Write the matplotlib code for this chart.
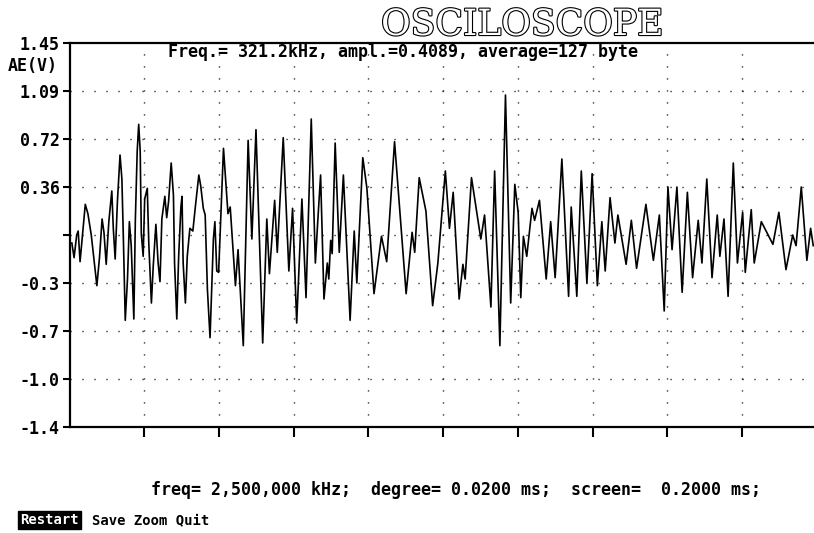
"""Recreate the OSCILOSCOPE acoustic-emission screen capture."""
import matplotlib

matplotlib.use("Agg")
import matplotlib.pyplot as plt
from matplotlib import patheffects


# trace turning points: time [us] and amplitude AE [V]
TIME_US = [
    0.6, 1.2, 1.9, 2.3, 2.8, 4.2, 4.9, 5.8, 7.3, 8.0,
    8.7, 9.2, 9.8, 10.5, 11.3, 11.7, 12.2, 12.8, 13.5, 14.0,
    14.4, 14.9, 15.5, 16.0, 16.5, 17.2, 17.6, 18.1, 18.5, 18.9,
    19.2, 19.7, 20.1, 20.8, 21.2, 21.9, 22.4, 23.1, 23.7, 24.2,
    24.7, 25.5, 26.0, 26.5, 27.2, 27.8, 28.1, 28.7, 29.2, 29.8,
    30.1, 30.4, 31.0, 31.5, 32.2, 33.0, 33.7, 34.6, 35.1, 35.8,
    36.3, 36.9, 37.6, 38.1, 38.5, 38.9, 39.4,
    39.9, 41.2, 42.4, 43.0, 44.4, 45.1, 46.5, 47.8, 48.8, 49.9,
    51.7, 52.8, 53.5, 54.9, 55.6, 57.2, 58.7, 59.7, 60.8, 62.2,
    63.3, 64.7, 65.8, 66.5, 67.2, 68.1, 69.0, 69.4, 69.9, 70.3,
    71.1, 72.2, 73.3, 75.1, 76.2, 76.9, 78.5, 79.6,
    81.5, 83.5, 84.9, 87.0, 90.1, 91.7, 92.4, 93.6, 95.4, 97.2,
    98.6, 100.6, 101.7, 102.7, 104.3, 105.3, 105.9, 107.6, 110.1, 111.1,
    112.8, 113.8, 115.2, 116.7, 118.1, 119.2, 120.1,
    120.8, 121.5, 122.4, 123.8, 124.5, 125.8, 127.6, 128.8, 130.0, 131.8,
    133.6, 134.3, 135.8, 137.0, 138.5, 139.9, 141.3, 142.5, 143.4, 144.7,
    146.0, 146.8, 149.0, 150.4, 151.8, 154.3, 156.3, 157.9, 159.2, 160.2,
    161.3, 162.6, 164.0, 165.4, 166.8, 168.3, 169.3, 170.6, 172.0, 173.4,
    174.1, 175.2, 176.3, 177.7, 178.8, 180.2, 180.9, 182.5, 183.3, 185.2,
    188.3, 189.9, 191.8, 193.6, 194.5, 195.9, 197.4, 198.4, 199.1,
]
AE_V = [
    -0.06, -0.17, 0.00, 0.03, -0.20, 0.23, 0.16, 0.00, -0.38, -0.17,
    0.12, 0.02, -0.22, 0.10, 0.33, 0.05, -0.18, 0.25, 0.60, 0.42,
    -0.03, -0.64, -0.33, 0.10, -0.08, -0.63, 0.11, 0.63, 0.83, 0.63,
    0.01, -0.16, 0.27, 0.35, -0.06, -0.51, -0.23, 0.08, -0.21, -0.35,
    0.12, 0.29, 0.13, 0.25, 0.54, 0.30, -0.21, -0.63, -0.16, 0.21,
    0.29, -0.21, -0.51, -0.16, 0.05, 0.03, 0.22, 0.45, 0.37, 0.20,
    0.15, -0.41, -0.77, -0.35, -0.03, 0.10, -0.27,
    -0.28, 0.65, 0.16, 0.21, -0.38, -0.11, -0.83, 0.71, -0.03, 0.79,
    -0.81, 0.12, -0.29, 0.26, -0.13, 0.73, -0.27, 0.20, -0.66, 0.27,
    -0.47, 0.87, -0.21, 0.13, 0.45, -0.48, -0.21, -0.33, -0.04, -0.14,
    0.69, -0.13, 0.45, -0.64, 0.03, -0.36, 0.58, 0.35,
    -0.44, -0.01, -0.20, 0.70, -0.44, 0.02, -0.13, 0.43, 0.18, -0.53,
    -0.21, 0.48, 0.05, 0.32, -0.48, -0.22, -0.33, 0.43, -0.03, 0.15,
    -0.54, 0.48, -0.83, 1.05, -0.51, 0.38, 0.17,
    -0.47, -0.01, -0.16, 0.20, 0.11, 0.26, -0.33, 0.10, -0.32, 0.57,
    -0.46, 0.21, -0.46, 0.48, -0.36, 0.46, -0.38, 0.10, -0.27, 0.28,
    -0.06, 0.15, -0.22, 0.11, -0.25, 0.23, -0.19, 0.15, -0.57, 0.36,
    -0.11, 0.36, -0.43, 0.32, -0.32, 0.11, -0.21, 0.42, -0.32, 0.15,
    -0.16, 0.12, -0.46, 0.54, -0.21, 0.17, -0.28, 0.19, -0.21, 0.10,
    -0.07, 0.17, -0.26, 0.00, -0.08, 0.36, -0.19, 0.05, -0.08,
]

Y_TICKS = [1.44, 1.08, 0.72, 0.36, 0.0, -0.36, -0.72, -1.08, -1.44]
Y_TICK_LABELS = ["1.45", "1.09", "0.72", "0.36", "", "-0.3", "-0.7", "-1.0", "-1.4"]
X_TICKS_US = [20, 40, 60, 80, 100, 120, 140, 160, 180]
SCREEN_US = 200

TITLE = "OSCILOSCOPE"
HEADER = "Freq.= 321.2kHz, ampl.=0.4089, average=127 byte"
Y_LABEL = "AE(V)"
FOOTER = "freq= 2,500,000 kHz;  degree= 0.0200 ms;  screen=  0.2000 ms;"
MENU_ACTIVE = "Restart"
MENU_REST = "Save Zoom Quit"


def fx(px):
    return px / W


def fy(py):
    return 1.0 - py / H


W, H = 814, 533
MONO = "DejaVu Sans Mono"

fig = plt.figure(figsize=(W / 100, H / 100), dpi=100)
fig.patch.set_facecolor("white")
ax = fig.add_axes([fx(69.6), fy(427), 747 / W, 384 / H])

ax.plot(TIME_US, AE_V, color="black", linewidth=1.2, zorder=3)

ax.set_xlim(0, SCREEN_US)
ax.set_ylim(-1.44, 1.44)
ax.set_xticks(X_TICKS_US)
ax.set_xticklabels([])
ax.set_yticks(Y_TICKS)
ax.set_yticklabels(Y_TICK_LABELS, fontfamily=MONO, fontweight="bold", fontsize=12)

dots = (0, (0.8, 7.84))
for y in Y_TICKS[1:-1]:
    ax.axhline(y, color="black", linewidth=1.0, linestyle=dots, zorder=1)
for x in X_TICKS_US:
    ax.axvline(x, color="black", linewidth=1.0, linestyle=dots, zorder=1)

for side in ("left", "bottom", "top"):
    ax.spines[side].set_linewidth(1.6)
ax.spines["right"].set_visible(False)
ax.tick_params(axis="y", direction="out", length=5, width=1.5, pad=2)
ax.tick_params(axis="x", direction="out", length=7, width=1.5)

fig.text(fx(522), fy(35), TITLE, fontfamily="DejaVu Serif", fontsize=26,
         color="white", ha="center", va="baseline",
         path_effects=[patheffects.Stroke(linewidth=1.6, foreground="black"),
                       patheffects.Normal()])
fig.text(fx(403), fy(52), HEADER, fontfamily=MONO, fontweight="bold",
         fontsize=12, ha="center", va="center")
fig.text(fx(8), fy(66), Y_LABEL, fontfamily=MONO, fontweight="bold",
         fontsize=12, ha="left", va="center")
fig.text(fx(456), fy(490), FOOTER, fontfamily=MONO, fontweight="bold",
         fontsize=12, ha="center", va="center")
fig.text(fx(20), fy(520), MENU_ACTIVE, fontfamily=MONO, fontweight="bold",
         fontsize=10, color="white", ha="left", va="center",
         bbox=dict(facecolor="black", edgecolor="black", pad=1.5))
fig.text(fx(92), fy(520), MENU_REST, fontfamily=MONO, fontweight="bold",
         fontsize=10, ha="left", va="center")

fig.savefig("out.png", dpi=100)
